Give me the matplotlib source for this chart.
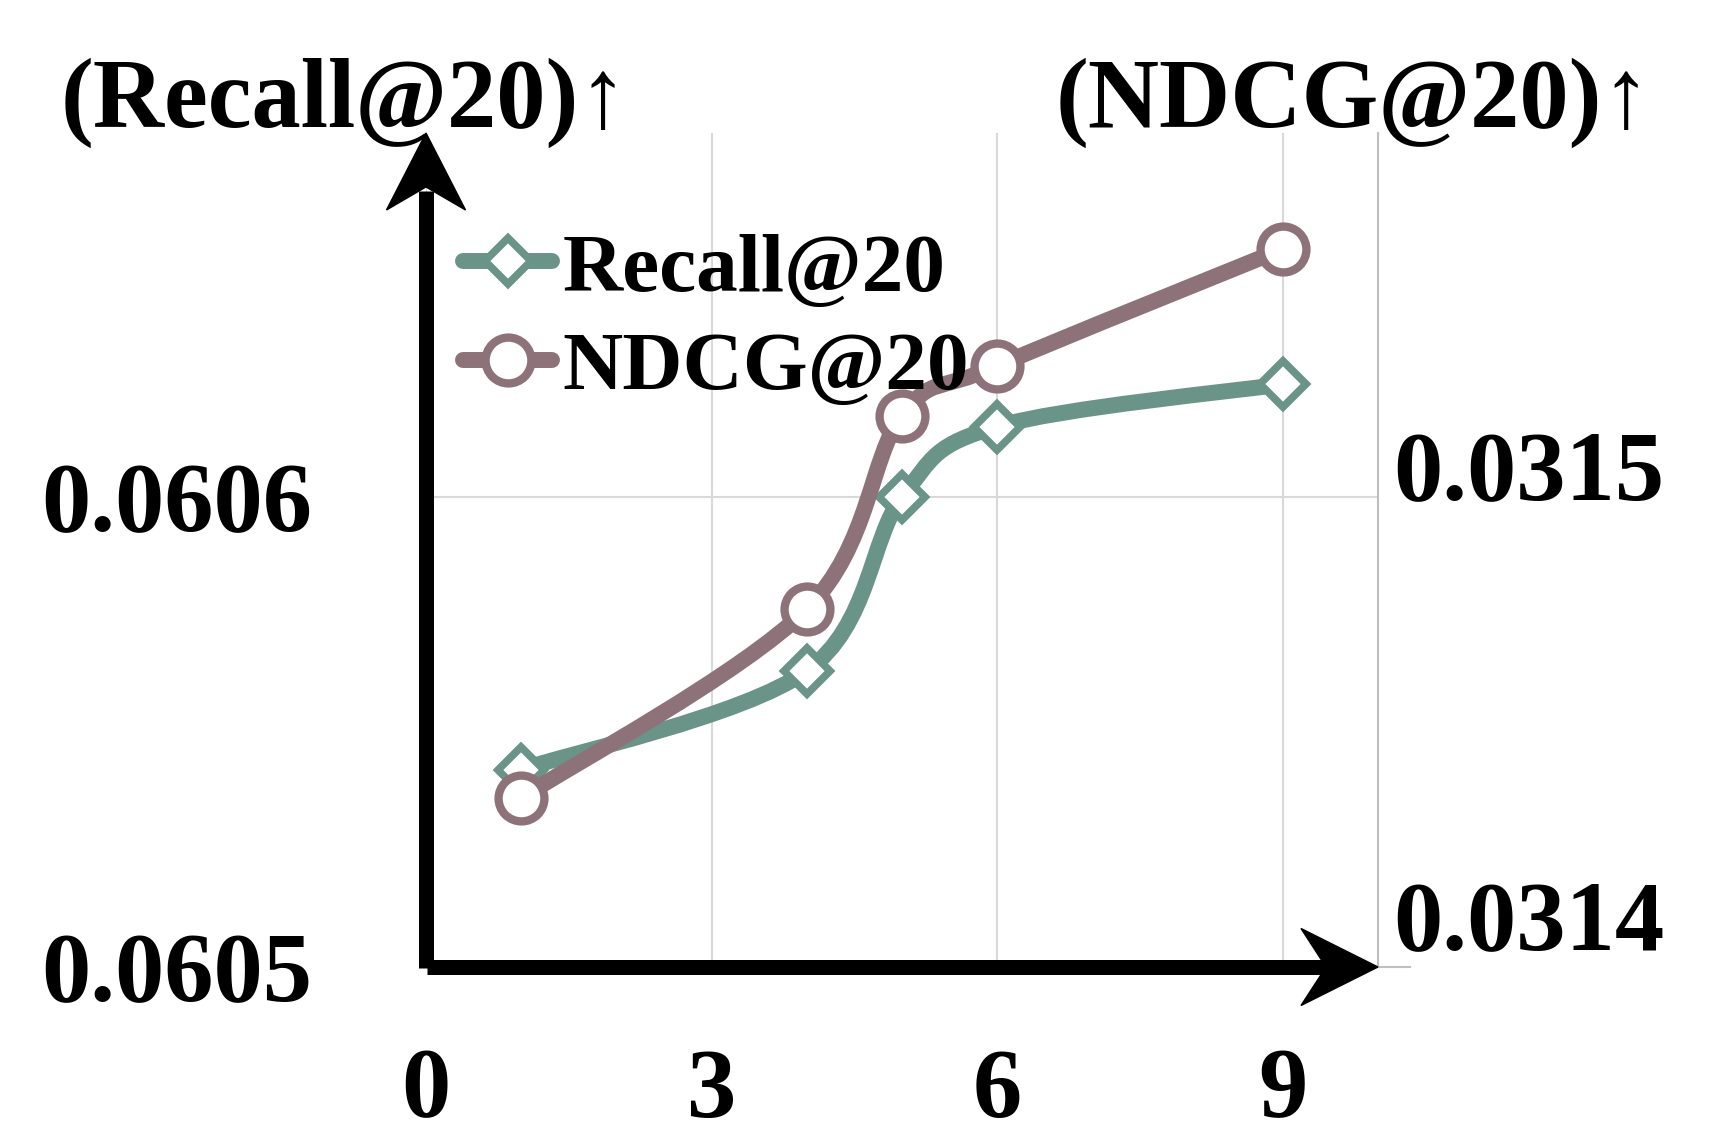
import numpy as np
import matplotlib
matplotlib.use('Agg')
import matplotlib.pyplot as plt
from matplotlib.path import Path
from matplotlib.patches import PathPatch, Polygon
from matplotlib.lines import Line2D

# ---- data ----
x_values = [1, 4, 5, 6, 9]
recall = [0.060542, 0.060563, 0.060600, 0.060615, 0.060624]
ndcg = [0.031426, 0.031468, 0.031511, 0.031522, 0.031548]
x_ticks = [0, 3, 6, 9]
left_ticks = [0.0605, 0.0606]
right_ticks = [0.0314, 0.0315]
series_labels = ['Recall@20', 'NDCG@20']
axis_titles = ['(Recall@20)↑', '(NDCG@20)↑']

plt.rcParams['font.family'] = ['Liberation Serif', 'DejaVu Serif']
plt.rcParams['font.weight'] = 'bold'

GREEN = '#6b9488'
MAUVE = '#8e7279'
GRID = '#d9d9d9'
SPINE = '#bfbfbf'
LW = 11.5
D_MS, D_MEW = 23, 5.5
O_MS, O_MEW = 33, 6

W, H = 1728, 1146
fig = plt.figure(figsize=(W / 100, H / 100), dpi=100)
ax = fig.add_axes([426 / W, 1 - 967 / H, 952 / W, 834 / H])
ax2 = ax.twinx()

ax.set_xlim(0, 10)
ax.set_ylim(0.0605, 0.0605 + 834 / 470 * 1e-4)
ax2.set_ylim(0.0314 - 52 / 450 * 1e-4, 0.0315 + 332 / 450 * 1e-4)


def smooth_path(xs, ys):
    pts = np.column_stack([xs, ys]).astype(float)
    n = len(pts)
    verts = [pts[0]]
    codes = [Path.MOVETO]
    for i in range(n - 1):
        p0 = pts[i - 1] if i > 0 else pts[i]
        p1 = pts[i]
        p2 = pts[i + 1]
        p3 = pts[i + 2] if i + 2 < n else pts[i + 1]
        c1 = p1 + (p2 - p0) / 6.0
        c2 = p2 - (p3 - p1) / 6.0
        verts += [c1, c2, p2]
        codes += [Path.CURVE4] * 3
    return Path(verts, codes)


# grid
ax.set_xticks(x_ticks)
ax.set_yticks(left_ticks)
ax.set_yticklabels([f'{v:.4f}' for v in left_ticks])
ax.grid(True, color=GRID, lw=1.5)
ax.set_axisbelow(True)
for s in ax.spines.values():
    s.set_visible(False)
ax.tick_params(axis='both', length=0, labelsize=71)
ax.tick_params(axis='x', pad=58)
ax.tick_params(axis='y', pad=82)

ax2.set_yticks(right_ticks)
ax2.set_yticklabels([f'{v:.4f}' for v in right_ticks])
for k in ['top', 'left', 'bottom']:
    ax2.spines[k].set_visible(False)
ax2.spines['right'].set_color(SPINE)
ax2.spines['right'].set_linewidth(1.5)
ax2.tick_params(axis='y', length=0, labelsize=71, pad=11)

# series
ax.add_patch(PathPatch(smooth_path(x_values, recall), fill=False, edgecolor=GREEN,
                       lw=LW, capstyle='round', joinstyle='round', zorder=3))
ax.plot(x_values, recall, ls='none', marker='D', ms=D_MS, mfc='white', mec=GREEN,
        mew=D_MEW, zorder=4)
ax2.add_patch(PathPatch(smooth_path(x_values, ndcg), fill=False, edgecolor=MAUVE,
                        lw=LW, capstyle='round', joinstyle='round', zorder=3))
ax2.plot(x_values, ndcg, ls='none', marker='o', ms=O_MS, mfc='white', mec=MAUVE,
         mew=O_MEW, zorder=4)

# legend
handles = [
    Line2D([], [], color=GREEN, lw=LW, marker='D', ms=D_MS, mfc='white', mec=GREEN,
           mew=D_MEW, solid_capstyle='round'),
    Line2D([], [], color=MAUVE, lw=LW, marker='o', ms=O_MS, mfc='white', mec=MAUVE,
           mew=O_MEW, solid_capstyle='round'),
]
ax2.legend(handles, series_labels, loc='upper left', bbox_to_anchor=(0.039, 0.881),
           frameon=False, handlelength=1.07, handletextpad=0.12, labelspacing=0.27,
           borderpad=0, borderaxespad=0, prop={'size': 60, 'weight': 'bold'})

# axis arrows
T = ax2.transAxes
ax2.add_line(Line2D([0, 0], [-0.001, 0.93], transform=T, color='black', lw=10.8,
                    solid_capstyle='butt', clip_on=False, zorder=10))
ax2.add_patch(Polygon([(0, 1), (0.0415, 0.9077), (0, 0.9353), (-0.0415, 0.9077)],
                      closed=True, transform=T, color='black', clip_on=False, zorder=10))
ax2.add_line(Line2D([1 / 952, 0.95], [0, 0], transform=T, color='black', lw=10.8,
                    solid_capstyle='butt', clip_on=False, zorder=10))
ax2.add_patch(Polygon([(1, 0), (0.9191, 0.0462), (0.9454, 0), (0.9191, -0.0462)],
                      closed=True, transform=T, color='black', clip_on=False, zorder=10))
ax2.add_line(Line2D([1, 1 + 32 / 952], [0, 0], transform=T, color=SPINE, lw=1.5,
                    clip_on=False, zorder=2))

# axis titles
fig.text(61 / W, 1 - 127 / H, axis_titles[0], fontsize=71, va='baseline', ha='left')
fig.text(1056 / W, 1 - 127 / H, axis_titles[1], fontsize=71, va='baseline', ha='left')

fig.savefig('out.png', dpi=100)
